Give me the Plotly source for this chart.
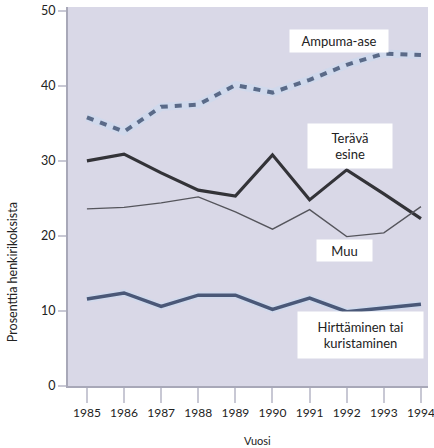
import plotly.graph_objects as go

years = [1985, 1986, 1987, 1988, 1989, 1990, 1991, 1992, 1993, 1994]
ampuma_ase = [35.8, 33.9, 37.2, 37.5, 40.1, 39.1, 40.8, 42.8, 44.3, 44.1]
terava_esine = [30.0, 30.9, 28.4, 26.1, 25.3, 30.8, 24.8, 28.8, 25.6, 22.3]
muu = [23.6, 23.8, 24.4, 25.2, 23.2, 20.9, 23.5, 19.9, 20.4, 23.9]
hirttaminen = [11.6, 12.4, 10.6, 12.1, 12.1, 10.2, 11.7, 9.9, 10.4, 10.9]

y_ticks = [0, 10, 20, 30, 40, 50]

labels = [
    ("Ampuma-ase", 1991.79, 46.0, 96, 20),
    ("Terävä<br>esine", 1992.09, 32.0, 82, 42),
    ("Muu", 1991.95, 18.1, 53, 19),
    ("Hirttäminen tai<br>kuristaminen", 1992.36, 6.8, 123, 44),
]

fig = go.Figure()

# soft glow under the blue lines
fig.add_trace(go.Scatter(x=years, y=ampuma_ase, mode="lines",
                         line=dict(color="rgba(200,218,240,0.55)", width=8),
                         hoverinfo="skip", showlegend=False))
fig.add_trace(go.Scatter(x=years, y=hirttaminen, mode="lines",
                         line=dict(color="rgba(200,218,240,0.55)", width=7),
                         hoverinfo="skip", showlegend=False))

fig.add_trace(go.Scatter(x=years, y=ampuma_ase, mode="lines", name="Ampuma-ase",
                         line=dict(color="#5a6a88", width=4, dash="7px,7px"),
                         showlegend=False))
fig.add_trace(go.Scatter(x=years, y=terava_esine, mode="lines", name="Terävä esine",
                         line=dict(color="#333338", width=3.2),
                         showlegend=False))
fig.add_trace(go.Scatter(x=years, y=muu, mode="lines", name="Muu",
                         line=dict(color="#55555c", width=1.4),
                         showlegend=False))
fig.add_trace(go.Scatter(x=years, y=hirttaminen, mode="lines", name="Hirttäminen tai kuristaminen",
                         line=dict(color="#4a5878", width=3.5),
                         showlegend=False))

for text, x, y, w, h in labels:
    fig.add_annotation(x=x, y=y, xref="x", yref="y", text=text, showarrow=False,
                       bgcolor="white", width=w, height=h, align="center",
                       font=dict(size=13, color="#222222", family="Lato"))

# axis titles placed as in the reference
fig.add_annotation(x=-0.156, y=0.30, xref="paper", yref="paper",
                   text="Prosenttia henkirikoksista", textangle=-90, showarrow=False,
                   xanchor="center", yanchor="middle",
                   font=dict(size=12.5, color="#222222", family="Lato"))
fig.add_annotation(x=0.525, y=-0.1425, xref="paper", yref="paper",
                   text="Vuosi", showarrow=False, xanchor="center", yanchor="middle",
                   font=dict(size=11, color="#222222", family="Lato"))

fig.update_layout(
    width=434, height=448,
    margin=dict(l=68, r=6, t=7, b=62),
    paper_bgcolor="white",
    plot_bgcolor="#d9d8e7",
    font=dict(family="Lato", size=12, color="#222222"),
    xaxis=dict(
        range=[1984.49, 1994.19], automargin=False,
        tickmode="array", tickvals=years, ticktext=[str(v) for v in years],
        ticks="outside", ticklen=15, tickcolor="#c8c8d4", tickwidth=1.5,
        showgrid=False, zeroline=False,
        showline=True, linecolor="#a8a8b8", linewidth=2,
        tickfont=dict(size=12), ticklabeloverflow="allow",
    ),
    yaxis=dict(
        range=[0, 50.5], automargin=False,
        tickmode="array", tickvals=y_ticks,
        ticks="outside", ticklen=8, tickcolor="#c8c8d4", tickwidth=1.5,
        showgrid=False, zeroline=False,
        showline=True, linecolor="#a8a8b8", linewidth=2,
        tickfont=dict(size=12.5),
    ),
)

fig.write_html("out.html", config={"displayModeBar": False},
               post_script="document.body.style.margin='0';")
